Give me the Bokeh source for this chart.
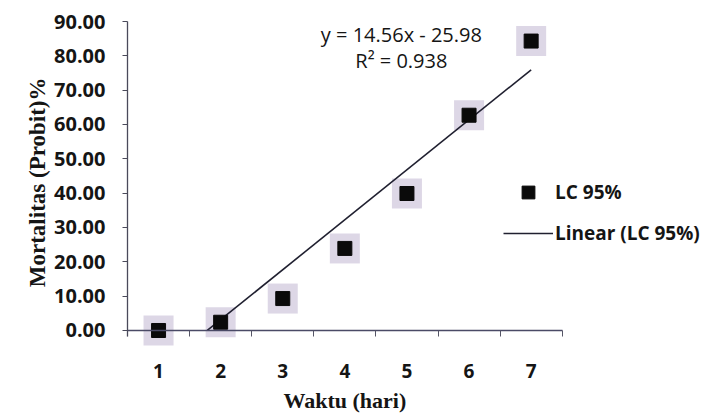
import numpy as np
from bokeh.plotting import figure
from bokeh.models import (Range1d, FixedTicker, NumeralTickFormatter, Label,
                          Legend, LegendItem, Title, LinearAxis)
from bokeh.embed import file_html
from bokeh.resources import INLINE

# ---- data ----
days = [1, 2, 3, 4, 5, 6, 7]
day_labels = ["1", "2", "3", "4", "5", "6", "7"]
lc95 = [0.0, 2.4, 9.3, 23.9, 39.9, 62.7, 84.3]
slope = 14.56
intercept = -25.98
r_squared = 0.938
y_ticks = [0, 10, 20, 30, 40, 50, 60, 70, 80, 90]

TXT = "#151515"

# the frame spans to the right and bottom edges so that legend / titles
# placed there are not clipped; axes are bounded to the data area
p = figure(width=700, height=414, output_backend="svg", toolbar_location=None,
           x_range=Range1d(0.5, 9.727), y_range=Range1d(-24.47, 90),
           min_border_left=127, min_border_right=0,
           min_border_top=21, min_border_bottom=0)
p.grid.visible = False
p.outline_line_color = None
p.background_fill_color = "white"

# trend line (clipped at y = 0 like the spreadsheet chart)
x_start = max(days[0], -intercept / slope)
trend_x = np.array([x_start, days[-1]])
trend_y = slope * trend_x + intercept

halo = p.scatter(days, lc95, marker="square", size=30, fill_color="#d4cde0",
                 fill_alpha=0.8, line_color=None)
ln = p.line(trend_x, trend_y, line_color="#202030", line_width=1.6)
sq = p.scatter(days, lc95, marker="square", size=14, fill_color="#0a0a0a",
               line_color="#0a0a0a")

# x axis (drawn at y = 0)
xa = p.xaxis[0]
xa.fixed_location = 0
xa.bounds = (0.5, 7.5)
xa.ticker = FixedTicker(ticks=days,
                        minor_ticks=[d - 0.5 for d in days] + [days[-1] + 0.5])
xa.major_label_overrides = {d: l for d, l in zip(days, day_labels)}
xa.major_tick_out = 0
xa.major_tick_in = 0
xa.minor_tick_out = 6
xa.minor_tick_in = 0
xa.minor_tick_line_color = "#555566"
xa.axis_line_color = "#4a4a66"
xa.axis_line_width = 1.5
xa.major_label_standoff = 28
xa.major_label_text_font = "Open Sans"
xa.major_label_text_font_style = "bold"
xa.major_label_text_font_size = "19px"
xa.major_label_text_color = TXT

# y axis
ya = p.yaxis[0]
ya.bounds = (-1.8, 90)
ya.ticker = FixedTicker(ticks=y_ticks, minor_ticks=[])
ya.formatter = NumeralTickFormatter(format="0.00")
ya.major_tick_out = 5
ya.major_tick_in = 0
ya.minor_tick_out = 0
ya.minor_tick_in = 0
ya.axis_line_color = "#4a4a5a"
ya.axis_line_width = 1.3
ya.major_tick_line_color = "#4a4a5a"
ya.major_label_standoff = 17
ya.major_label_text_font = "Open Sans"
ya.major_label_text_font_style = "bold"
ya.major_label_text_font_size = "20px"
ya.major_label_text_color = TXT

# empty spacer axis (no ticks, no line) between tick labels and title
spacer = LinearAxis(ticker=FixedTicker(ticks=[], minor_ticks=[]),
                    axis_line_color=None, major_tick_out=17, major_tick_in=0,
                    minor_tick_out=0, minor_tick_in=0,
                    major_tick_line_color=None, minor_tick_line_color=None,
                    major_label_standoff=0)
p.add_layout(spacer, "left")

# y axis title, positioned along the bounded data area (not the whole frame)
p.add_layout(Title(text="Mortalitas (Probit)%", align="right", offset=56,
                   vertical_align="middle", standoff=2,
                   text_font="Liberation Serif", text_font_style="bold",
                   text_font_size="23px", text_color=TXT), "left")

# x axis title
p.add_layout(Label(x=(days[0] + days[-1]) / 2, y=-20.4, text="Waktu (hari)",
                   text_align="center", text_baseline="middle",
                   text_font="Liberation Serif", text_font_style="bold",
                   text_font_size="22px", text_color=TXT))

# equation labels
eq = f"y = {slope:.2f}x - {abs(intercept):.2f}"
r2 = f"R\u00b2 = {r_squared:.3f}"
for txt, yy in [(eq, 86.2), (r2, 78.5)]:
    p.add_layout(Label(x=4.91, y=yy, text=txt, text_align="center",
                       text_baseline="middle", text_font="Open Sans",
                       text_font_size="20px", text_color=TXT))

legend = Legend(items=[LegendItem(label="LC 95%", renderers=[sq]),
                       LegendItem(label="Linear (LC 95%)", renderers=[ln])],
                location=(376, 165), glyph_width=50, glyph_height=32,
                spacing=9, padding=0, margin=0, label_standoff=2,
                border_line_color=None, background_fill_alpha=0,
                label_text_font="Open Sans", label_text_font_style="bold",
                label_text_font_size="19px", label_text_color=TXT)
p.add_layout(legend)

open("out.html", "w").write(file_html(p, INLINE))
